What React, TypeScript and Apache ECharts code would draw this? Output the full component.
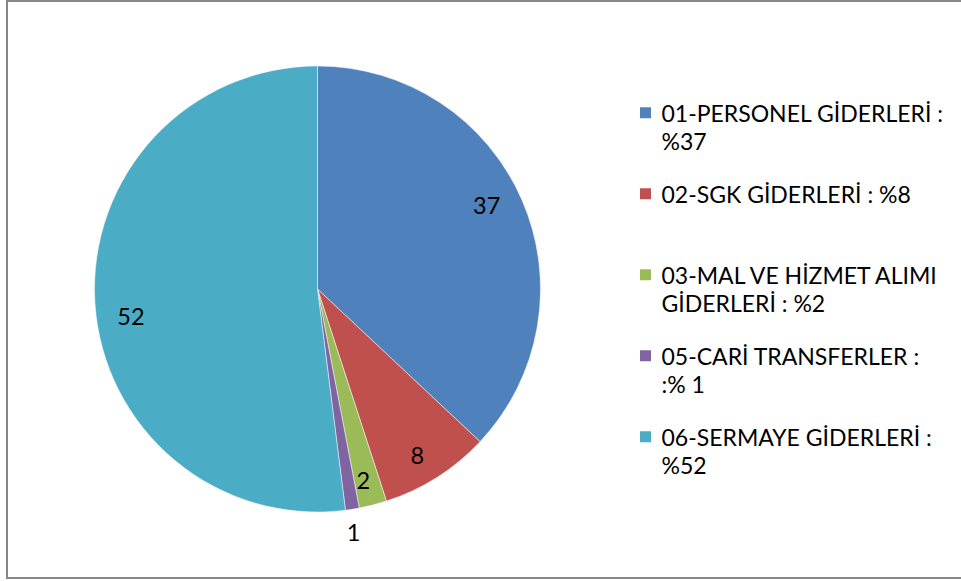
import React, { useEffect, useRef } from "react";
import * as echarts from "echarts";

const categories = [
  "01-PERSONEL GİDERLERİ",
  "02-SGK GİDERLERİ",
  "03-MAL VE HİZMET ALIMI GİDERLERİ",
  "05-CARİ TRANSFERLER",
  "06-SERMAYE GİDERLERİ",
];
const values = [37, 8, 2, 1, 52];
const legendLines = [
  ["01-PERSONEL GİDERLERİ :", "%37"],
  ["02-SGK GİDERLERİ : %8", ""],
  ["03-MAL VE HİZMET ALIMI", "GİDERLERİ : %2"],
  ["05-CARİ TRANSFERLER :", ":% 1"],
  ["06-SERMAYE GİDERLERİ :", "%52"],
];
const colors = ["#4F81BD", "#C0504D", "#9BBB59", "#8064A2", "#4BACC6"];
// which labels sit inside the pie and which outside
const outsideLabel = [false, false, false, true, false];

const FONT = "Lato, 'Open Sans', sans-serif";
const FS = 23;
const LH = 28.5;
// fine position nudges of the data labels (px)
const labelNudge: Record<number, [number, number]> = {
  0: [-7, -8],
  1: [-3, 4],
  2: [-2, 5],
  3: [-3, -4],
  4: [5, 15],
};

export default function App() {
  const ref = useRef<HTMLDivElement>(null);
  useEffect(() => {
    if (!ref.current) return;
    const chart = echarts.init(ref.current, undefined, { renderer: "svg" });
    const data = categories.map((name, i) => ({
      name,
      value: values[i],
      itemStyle: { color: colors[i] },
    }));
    const center = [317.5, 289];
    const labelStyle = {
      fontFamily: FONT,
      fontSize: FS + 0.5,
      color: "#000",
    };
    const rich: Record<string, any> = {
      t: { fontFamily: FONT, fontSize: FS, color: "#000", lineHeight: LH },
      g: { width: 10.5, height: 11, lineHeight: LH },
      ind: { width: 21.5, height: 11, lineHeight: LH },
    };
    colors.forEach((c, i) => {
      rich["sq" + i] = { width: 11, height: 11, backgroundColor: c, lineHeight: LH };
    });
    const labelLayout = (p: any) => {
      const n = labelNudge[p.dataIndex] || [0, 0];
      return { dx: n[0], dy: n[1] };
    };
    chart.setOption({
      animation: false,
      backgroundColor: "#fff",
      graphic: [
        {
          type: "rect",
          shape: { x: 7, y: 1, width: 960, height: 577 },
          style: { fill: "none", stroke: "#878787", lineWidth: 2 },
          silent: true,
          z: 100,
        },
      ],
      legend: {
        orient: "vertical",
        left: 635,
        top: 98.5,
        padding: 0,
        itemWidth: 0,
        itemHeight: 0,
        itemGap: 24,
        icon: "none",
        data: categories,
        formatter: (name: string) => {
          const i = categories.indexOf(name);
          const [a, b] = legendLines[i];
          return `{sq${i}|}{g|}{t|${a}}\n{ind|}${b ? `{t|${b}}` : ""}`;
        },
        textStyle: {
          fontFamily: FONT,
          fontSize: FS,
          color: "#000",
          lineHeight: LH,
          rich,
        },
        selectedMode: false,
      },
      series: [
        {
          type: "pie",
          center,
          radius: [0, 223],
          startAngle: 90,
          clockwise: true,
          label: { show: false },
          labelLine: { show: false },
          itemStyle: { borderColor: "rgba(255,255,255,0.6)", borderWidth: 0.8 },
          emphasis: { disabled: true },
          data,
        },
        {
          type: "pie",
          center,
          radius: [0, 378],
          startAngle: 90,
          clockwise: true,
          silent: true,
          labelLine: { show: false },
          emphasis: { disabled: true },
          data: data.map((d, i) => ({
            name: d.name,
            value: d.value,
            itemStyle: { color: "transparent" },
            label: { show: !outsideLabel[i] },
          })),
          label: { position: "inside", formatter: "{c}", ...labelStyle },
          labelLayout,
        },
        {
          type: "pie",
          center,
          radius: [0, 494],
          startAngle: 90,
          clockwise: true,
          silent: true,
          labelLine: { show: false },
          emphasis: { disabled: true },
          data: data.map((d, i) => ({
            name: d.name,
            value: d.value,
            itemStyle: { color: "transparent" },
            label: { show: outsideLabel[i] },
          })),
          label: { position: "inside", formatter: "{c}", ...labelStyle },
          labelLayout,
        },
      ],
    });
    return () => chart.dispose();
  }, []);
  return (
    <div
      ref={ref}
      style={{ position: "fixed", left: 0, top: 0, width: 961, height: 581 }}
    />
  );
}
